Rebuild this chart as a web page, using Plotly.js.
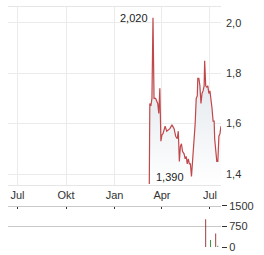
<!DOCTYPE html>
<html><head><meta charset="utf-8">
<script src="https://cdn.plot.ly/plotly-3.0.1.min.js"></script>
<style>html,body{margin:0;padding:0;background:#fff}#chart{width:264px;height:255px}</style>
</head><body><div id="chart"></div>
<script>
var priceDates = ["2025-03-08","2025-03-09","2025-03-11","2025-03-13","2025-03-15","2025-03-17","2025-03-20","2025-03-24","2025-03-26","2025-03-28","2025-03-30","2025-04-01","2025-04-03","2025-04-07","2025-04-10","2025-04-13","2025-04-16","2025-04-20","2025-04-24","2025-04-27","2025-04-30","2025-05-02","2025-05-04","2025-05-06","2025-05-08","2025-05-10","2025-05-13","2025-05-15","2025-05-17","2025-05-19","2025-05-21","2025-05-23","2025-05-25","2025-05-27","2025-05-29","2025-05-31","2025-06-03","2025-06-05","2025-06-07","2025-06-08","2025-06-10","2025-06-12","2025-06-14","2025-06-16","2025-06-18","2025-06-20","2025-06-21","2025-06-23","2025-06-25","2025-06-27","2025-06-29","2025-07-01","2025-07-03","2025-07-05","2025-07-07","2025-07-09","2025-07-10","2025-07-12","2025-07-14","2025-07-16","2025-07-18","2025-07-20","2025-07-22"];
var priceValues = [1.36,1.68,1.67,1.70,2.02,1.70,1.70,1.68,1.64,1.74,1.53,1.555,1.56,1.59,1.57,1.575,1.58,1.595,1.58,1.55,1.54,1.57,1.45,1.51,1.52,1.49,1.48,1.46,1.47,1.44,1.46,1.44,1.44,1.39,1.44,1.51,1.60,1.70,1.71,1.78,1.78,1.75,1.68,1.72,1.73,1.75,1.85,1.75,1.745,1.75,1.72,1.73,1.70,1.66,1.61,1.61,1.54,1.49,1.45,1.45,1.55,1.56,1.59];
var volumeDates = ["2025-06-23","2025-07-02","2025-07-12","2025-07-16"];
var volumeValues = [1010,260,490,50];
var volumeColors = ["#8b1c1c","#1f8a1f","#8b1c1c","#1f8a1f"];
var tickDates = ["2024-07-01","2024-10-01","2025-01-01","2025-04-01","2025-07-01"];
var tickLabels = ["Jul","Okt","Jan","Apr","Jul"];
var priceTicks = [1.4,1.6,1.8,2.0];
var volumeTicks = [0,750,1500];

var maxV = Math.max.apply(null, priceValues), minV = Math.min.apply(null, priceValues.slice(1));
var maxI = priceValues.indexOf(maxV), minI = priceValues.indexOf(minV);
function fmt(v){return v.toFixed(3).replace('.', ',');}

var volTop = 0.171;
var traces = [
  {x: priceDates, y: priceValues, type: 'scatter', mode: 'lines',
   line: {color: '#c0474a', width: 1.2}, fill: 'tozeroy',
   fillgradient: {type: 'vertical', start: 1.36, stop: 2.06,
     colorscale: [[0, 'rgba(255,255,255,1)'], [1, 'rgba(210,218,226,1)']]},
   xaxis: 'x', yaxis: 'y', hoverinfo: 'skip'},
  {x: volumeDates, y: volumeValues, type: 'bar', marker: {color: volumeColors},
   width: 1.6*86400000, xaxis: 'x2', yaxis: 'y2', hoverinfo: 'skip'}
];
var xr = ['2024-06-13','2025-07-22'];
var layout = {
  width: 264, height: 255, separators: ',.',
  margin: {l: 8, r: 43, t: 7, b: 8},
  paper_bgcolor: '#fff', plot_bgcolor: 'rgba(0,0,0,0)', showlegend: false,
  font: {family: 'Liberation Sans, Arial, sans-serif', size: 11, color: '#333'},
  xaxis: {type: 'date', range: xr, domain: [0,1], anchor: 'y',
    tickvals: tickDates, ticktext: tickLabels, showgrid: true, gridcolor: '#ebebeb',
    showline: true, mirror: true, linecolor: '#e6e6e6', ticks: '', zeroline: false,
    tickfont: {size: 11, color: '#333'}},
  yaxis: {range: [1.356, 2.063], domain: [0.258, 1], side: 'right', anchor: 'x',
    tickvals: priceTicks, tickformat: '.1f', showgrid: true, gridcolor: '#ebebeb',
    zeroline: false, ticks: '', ticklabelstandoff: 4, tickfont: {size: 11, color: '#333'}},
  xaxis2: {type: 'date', range: xr, domain: [0,1], anchor: 'free', position: volTop, side: 'bottom',
    tickvals: tickDates, showticklabels: false, showgrid: false, zeroline: false,
    ticks: 'outside', ticklen: 2, tickcolor: '#333', showline: true, linecolor: '#c8c8c8', linewidth: 1},
  yaxis2: {range: [0, 1500], domain: [0, volTop], side: 'right', anchor: 'x2',
    tickvals: volumeTicks, showgrid: true, gridcolor: '#c8c8c8', zeroline: false,
    ticks: 'outside', ticklen: 5, tickcolor: '#333', tickfont: {size: 11, color: '#333'}},
  annotations: [
    {x: priceDates[maxI], y: maxV, xref: 'x', yref: 'y', text: fmt(maxV), showarrow: false,
     xanchor: 'right', yanchor: 'middle', xshift: -3, font: {size: 11, color: '#222'}},
    {x: priceDates[minI], y: minV, xref: 'x', yref: 'y', text: fmt(minV), showarrow: false,
     xanchor: 'right', yanchor: 'middle', xshift: -5, font: {size: 11, color: '#222'}}
  ]
};
Plotly.newPlot('chart', traces, layout, {staticPlot: true, displayModeBar: false});
</script></body></html>
